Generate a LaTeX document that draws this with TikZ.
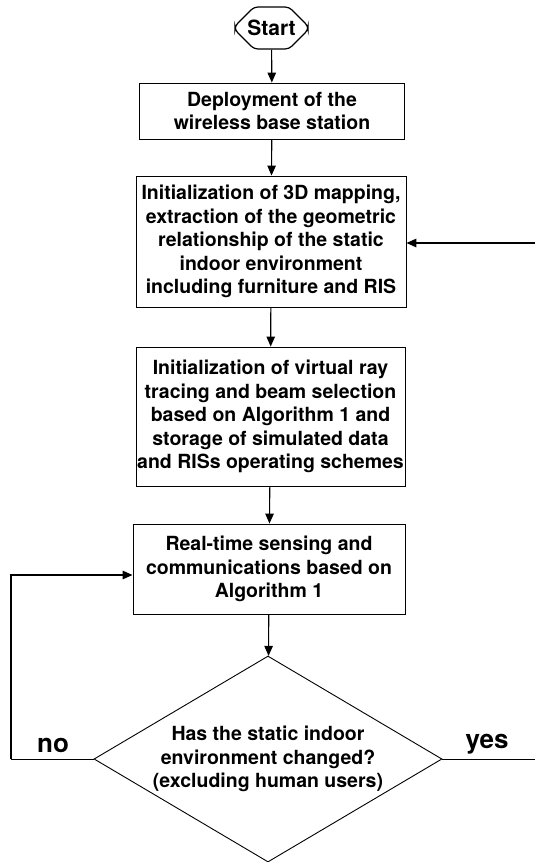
\documentclass[tikz,border=0pt]{standalone}
\usepackage{fontspec}
\setmainfont{TeX Gyre Heros}
\usetikzlibrary{arrows.meta,shapes.geometric,shapes.misc}

\begin{document}
\begin{tikzpicture}[x=1pt,y=-1pt,
    boxfont/.style={font=\fontsize{19.5}{23.5}\selectfont\bfseries},
    stepbox/.style={draw,line width=0.9pt,align=center,inner sep=0pt,boxfont,minimum width=#1},
    flow/.style={line width=1.1pt,-{Triangle[length=10pt,width=8.5pt]}},
    loopline/.style={line width=1.6pt},
    answer/.style={anchor=base,font=\fontsize{26}{30}\selectfont\bfseries}]
  \useasboundingbox (0,0) rectangle (535,862);
  % terminal and process boxes, top to bottom
  \node[draw,line width=1.2pt,chamfered rectangle,chamfered rectangle xsep=13pt,chamfered rectangle ysep=11pt,
        rounded corners=4pt,inner sep=0pt,minimum width=73pt,minimum height=42pt,
        font=\fontsize{21}{24}\selectfont\bfseries] (start) at (271.5,28) {Start};
  \node[stepbox=265pt,minimum height=56pt] (deploy) at (272,111) {Deployment of the\\wireless base station};
  \node[stepbox=270pt,minimum height=131pt] (init3d) at (271,241.5) {Initialization of 3D mapping,\\extraction of the geometric\\relationship of the static\\indoor environment\\including furniture and RIS};
  \node[stepbox=269pt,minimum height=139pt] (raytrace) at (270.5,416.5) {Initialization of virtual ray\\tracing and beam selection\\based on Algorithm 1 and\\storage of simulated data\\and RISs operating schemes};
  \node[stepbox=272pt,minimum height=90pt] (realtime) at (269,569) {Real-time sensing and\\communications based on\\Algorithm 1};
  \node[draw,line width=0.9pt,diamond,aspect=1.69,inner sep=0pt,minimum width=348pt,minimum height=206pt,
        align=center,boxfont] (changed) at (268,759) {Has the static indoor\\environment changed?\\(excluding human users)};
  % main flow
  \draw[flow] (start) -- (deploy);
  \draw[flow] (deploy) -- (init3d);
  \draw[flow] (init3d) -- (raytrace);
  \draw[flow] (raytrace) -- (realtime);
  \draw[flow] (realtime) -- (changed);
  % decision branches
  \coordinate (noturn) at (11,759);
  \coordinate (yesend) at (535,759);
  \coordinate (backin) at (535,243);
  \draw[line width=1pt] (changed.west) -- (noturn);
  \draw[loopline,-{Triangle[length=10pt,width=8.5pt]}] (noturn) |- ([yshift=-6pt]realtime.west);
  \draw[line width=1pt] (changed.east) -- (yesend);
  \draw[loopline,-{Triangle[length=10pt,width=8.5pt]}] (backin) -- (init3d.east |- backin);
  \node[answer] (nolabel) at (53,752) {no};
  \node[answer] (yeslabel) at (487,748) {yes};
\end{tikzpicture}
\end{document}
